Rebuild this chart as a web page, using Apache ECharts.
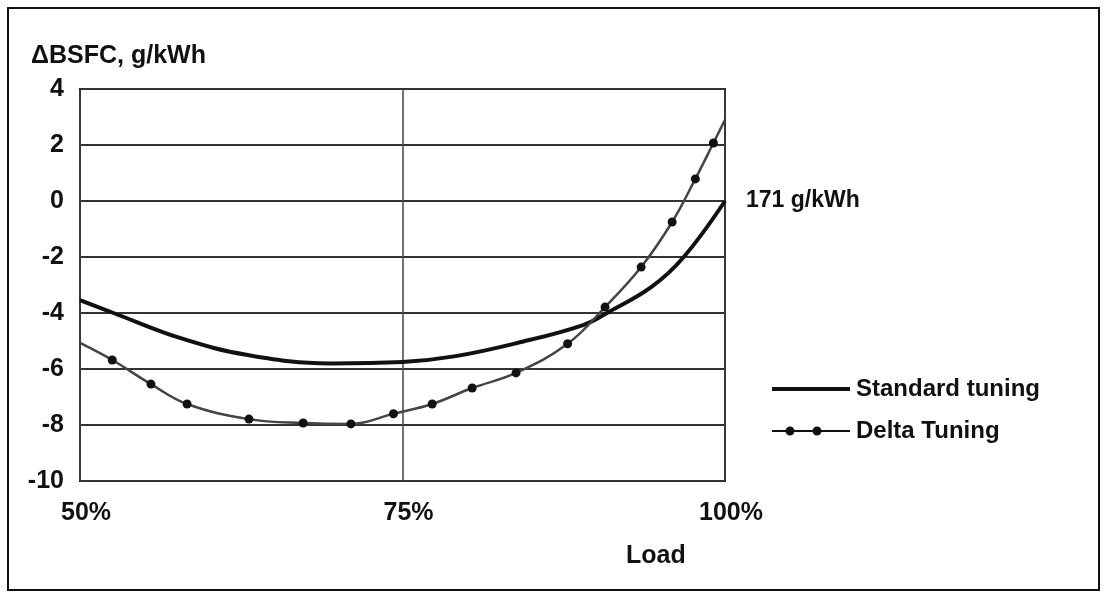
<!doctype html>
<html>
<head>
<meta charset="utf-8">
<title>Delta BSFC vs Load</title>
<style>
  html, body { margin: 0; padding: 0; background: #fff; }
  #main { width: 1107px; height: 596px; }
</style>
</head>
<body>
<div id="main"></div>
<script src="https://cdn.jsdelivr.net/npm/echarts@6/dist/echarts.min.js"></script>
<script>
// load in %, delta BSFC in g/kWh
var stdLoad  = [50, 52.6, 57.8, 63, 69.4, 75, 79, 83.9, 89, 91, 94.3, 96.8, 100];
var stdBsfc  = [-3.54, -4.0, -4.9, -5.5, -5.8, -5.75, -5.55, -5.07, -4.43, -3.96, -3.07, -2.0, 0];

var deltaLoad = [50, 52.5, 55.5, 58.3, 63.1, 67.3, 71, 74.3, 77.3, 80.4, 83.8, 87.8, 90.7, 93.5, 95.9, 97.7, 99.1, 100];
var deltaBsfc = [-5.07, -5.68, -6.54, -7.25, -7.79, -7.93, -7.96, -7.6, -7.25, -6.68, -6.14, -5.1, -3.79, -2.36, -0.75, 0.79, 2.07, 2.9];

var font = 'Arial, "Liberation Sans", sans-serif';

function pairs(xs, ys, bareEnds) {
  var out = [];
  for (var i = 0; i < xs.length; i++) {
    var item = { value: [xs[i], ys[i]] };
    if (bareEnds && (i === 0 || i === xs.length - 1)) item.symbol = 'none';
    out.push(item);
  }
  return out;
}

// legend icons: a plain thick line, and a thin line with two dots
var stdIcon = 'path://M0,0 L78,0 L78,4 L0,4 Z';
var deltaIcon = 'path://M0,3.5 L78,3.5 L78,5.5 L0,5.5 Z ' +
  'M13.5,4.5 A4.5,4.5 0 1,1 22.5,4.5 A4.5,4.5 0 1,1 13.5,4.5 Z ' +
  'M40.5,4.5 A4.5,4.5 0 1,1 49.5,4.5 A4.5,4.5 0 1,1 40.5,4.5 Z';

var chart = echarts.init(document.getElementById('main'));

var option = {
  animation: false,
  title: [
    { text: 'ΔBSFC, g/kWh', left: 26, top: 39,
      textStyle: { fontFamily: font, fontSize: 25, fontWeight: 'bold', color: '#111' } },
    { text: 'Load', left: 621, top: 539,
      textStyle: { fontFamily: font, fontSize: 25, fontWeight: 'bold', color: '#111' } }
  ],
  graphic: [{
    type: 'rect',
    shape: { x: 8, y: 8, width: 1091, height: 582 },
    style: { fill: 'none', stroke: '#111', lineWidth: 2 },
    silent: true
  }],
  legend: {
    orient: 'vertical',
    left: 767, top: 372,
    itemWidth: 78, itemHeight: 12, itemGap: 18,
    textStyle: { fontFamily: font, fontSize: 24, fontWeight: 'bold', color: '#111',
      padding: [0, 0, 0, 1] },
    data: [
      { name: 'Standard tuning', icon: stdIcon },
      { name: 'Delta Tuning', icon: deltaIcon }
    ]
  },
  grid: {
    left: 80, right: 382, top: 89, bottom: 115,
    show: true, borderColor: '#111', borderWidth: 2
  },
  xAxis: {
    type: 'value', min: 50, max: 100, interval: 25,
    axisLine: { show: false },
    axisTick: { show: false },
    axisLabel: { formatter: '{value}%', margin: 20, color: '#111',
      padding: [0, 0, 0, 12],
      fontFamily: font, fontSize: 25, fontWeight: 'bold' },
    splitLine: { show: true, lineStyle: { color: '#444', width: 1.5 } }
  },
  yAxis: {
    type: 'value', min: -10, max: 4, interval: 2,
    axisLine: { show: false },
    axisTick: { show: false },
    axisLabel: { margin: 16, color: '#111',
      fontFamily: font, fontSize: 25, fontWeight: 'bold' },
    splitLine: { show: true, lineStyle: { color: '#333', width: 2 } }
  },
  series: [
    {
      name: 'Standard tuning',
      type: 'line',
      smooth: 0.4,
      showSymbol: false,
      symbol: 'none',
      lineStyle: { color: '#111', width: 4 },
      itemStyle: { color: '#111' },
      data: pairs(stdLoad, stdBsfc, false),
      endLabel: {
        show: true, formatter: '171 g/kWh', distance: 21,
        color: '#111', fontFamily: font, fontSize: 23, fontWeight: 'bold'
      },
      z: 3
    },
    {
      name: 'Delta Tuning',
      type: 'line',
      smooth: 0.4,
      symbol: 'circle',
      symbolSize: 9,
      lineStyle: { color: '#444', width: 2.5 },
      itemStyle: { color: '#111' },
      data: pairs(deltaLoad, deltaBsfc, true),
      z: 4
    }
  ]
};

chart.setOption(option);
</script>
</body>
</html>
